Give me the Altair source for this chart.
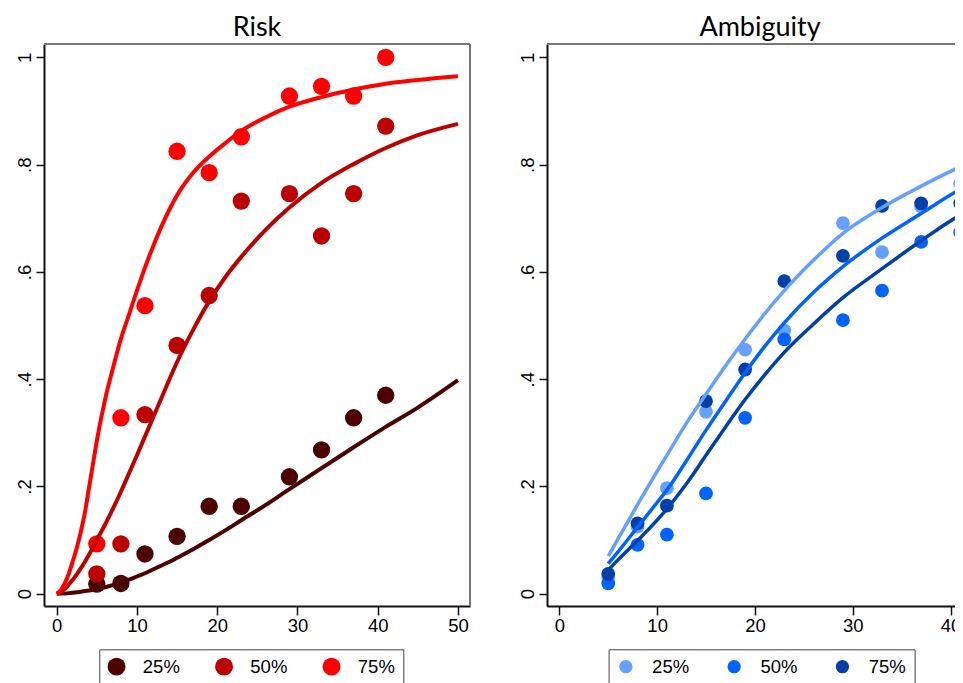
import altair as alt
import pandas as pd

levels = ["25%", "50%", "75%"]
red_colors = ["#4d0000", "#bb0000", "#ff0000"]
blue_colors = ["#66a0ff", "#0062ff", "#0040a8"]

# observed points (same x for all series)
pt_x = [5, 8, 11, 15, 19, 23, 29, 33, 37, 41]
risk_25 = [0.018, 0.019, 0.074, 0.107, 0.163, 0.163, 0.218, 0.268, 0.328, 0.370]
risk_50 = [0.037, 0.093, 0.334, 0.463, 0.556, 0.732, 0.746, 0.667, 0.746, 0.872]
risk_75 = [0.093, 0.328, 0.537, 0.825, 0.785, 0.852, 0.928, 0.946, 0.928, 1.000]

amb_25 = [0.030, 0.125, 0.197, 0.339, 0.455, 0.491, 0.691, 0.637, 0.722, 0.765]
amb_50 = [0.019, 0.091, 0.110, 0.187, 0.328, 0.474, 0.510, 0.565, 0.656, 0.674]
amb_75 = [0.037, 0.131, 0.164, 0.359, 0.418, 0.583, 0.630, 0.723, 0.728, 0.728]

# fitted curves
risk_cx = [0, 0.5, 1, 1.5, 2, 2.5, 3, 3.5, 4, 4.5, 5, 6, 7, 8, 9, 10, 11, 12, 13, 14,
           15, 17, 19, 21, 23, 26, 29, 33, 37, 41, 45, 50]
risk_c25 = [0, 0.0002, 0.0005, 0.001, 0.0018, 0.0027, 0.0037, 0.0048, 0.006, 0.0074,
            0.009, 0.012, 0.016, 0.021, 0.026, 0.032, 0.038, 0.045, 0.052, 0.059,
            0.067, 0.083, 0.100, 0.118, 0.137, 0.165, 0.195, 0.234, 0.273, 0.311, 0.347, 0.398]
risk_c50 = [0, 0.003, 0.009, 0.017, 0.026, 0.036, 0.047, 0.059, 0.072, 0.086,
            0.100, 0.128, 0.158, 0.190, 0.224, 0.258, 0.293, 0.328, 0.363, 0.398,
            0.432, 0.492, 0.545, 0.590, 0.628, 0.678, 0.720, 0.766, 0.801, 0.831, 0.855, 0.876]
risk_c75 = [0, 0.006, 0.019, 0.037, 0.060, 0.085, 0.115, 0.150, 0.195, 0.240,
            0.285, 0.360, 0.420, 0.475, 0.520, 0.565, 0.608, 0.647, 0.683, 0.715,
            0.743, 0.785, 0.815, 0.840, 0.863, 0.888, 0.908, 0.926, 0.940, 0.951, 0.958, 0.965]

amb_cx = [5, 6, 8, 10, 11, 13, 15, 17, 19, 21, 23, 26, 29, 33, 37, 41, 42.5]
amb_c25 = [0.070, 0.102, 0.166, 0.228, 0.258, 0.318, 0.372, 0.425, 0.475, 0.522,
           0.565, 0.622, 0.672, 0.720, 0.760, 0.796, 0.808]
amb_c50 = [0.056, 0.078, 0.124, 0.170, 0.193, 0.248, 0.305, 0.359, 0.412, 0.461,
           0.505, 0.562, 0.610, 0.663, 0.709, 0.754, 0.768]
amb_c75 = [0.044, 0.063, 0.099, 0.137, 0.158, 0.205, 0.258, 0.311, 0.362, 0.408,
           0.450, 0.503, 0.552, 0.606, 0.658, 0.706, 0.720]

y_ticks = [0, 0.2, 0.4, 0.6, 0.8, 1]

W, H = 426, 562
LABEL_FONT = "Liberation Sans"
TITLE_FONT = "Lato"


def pts_frame(series):
    rows = []
    for i, (lvl, vals) in enumerate(zip(levels, series)):
        for x, y in zip(pt_x, vals):
            rows.append({"x": x, "y": y, "level": lvl, "k": i})
    return pd.DataFrame(rows)


def curve_frame(cx, series):
    rows = []
    for i, (lvl, vals) in enumerate(zip(levels, series)):
        for x, y in zip(cx, vals):
            rows.append({"x": x, "y": y, "level": lvl, "k": i})
    return pd.DataFrame(rows)


def panel(title, pts, curves, xdomain, xticks, colors, psize, lwidth, sym, legx, colpad, right_border):
    xs = alt.Scale(domain=xdomain, nice=False, zero=False)
    ys = alt.Scale(domain=[-0.023, 1.025], nice=False, zero=False)
    x_axis = alt.Axis(values=xticks, title=None, grid=False, labelFont=LABEL_FONT,
                      labelFontSize=18.5, labelColor="black", tickSize=9, tickWidth=1.5,
                      tickColor="#111", domainColor="#111", domainWidth=2, labelPadding=1,
                      labelFlush=False, labelOverlap=False)
    y_axis = alt.Axis(values=y_ticks, title=None, grid=False, labelFont=LABEL_FONT,
                      labelFontSize=18.5, labelColor="black", tickSize=8, tickWidth=1.5,
                      tickColor="#111", domainColor="#111", domainWidth=2, labelPadding=2,
                      labelAngle=270, labelAlign="center", labelBaseline="bottom",
                      labelFlush=False, labelOverlap=False,
                      labelExpr="datum.value == 0 ? '0' : datum.value == 1 ? '1' : '.' + round(datum.value * 10)")
    legend = alt.Legend(orient="none", legendX=legx, legendY=605.3, direction="horizontal",
                        columns=3, title=None, symbolType="circle", symbolSize=sym,
                        symbolStrokeWidth=0, labelFont=LABEL_FONT, labelFontSize=18.5,
                        labelColor="black", labelOffset=17, columnPadding=colpad, padding=8,
                        labelExpr="datum.label + ' '",
                        strokeColor="#444", fillColor="white")
    p = alt.Chart(pts).mark_circle(size=psize, opacity=1, clip=True).encode(
        x=alt.X("x:Q", scale=xs, axis=x_axis),
        y=alt.Y("y:Q", scale=ys, axis=y_axis),
        fill=alt.Fill("level:N", scale=alt.Scale(domain=levels, range=colors), legend=legend),
        order=alt.Order("k:Q"),
    )
    l = alt.Chart(curves).mark_line(strokeWidth=lwidth, interpolate="monotone", clip=True).encode(
        x=alt.X("x:Q", scale=xs),
        y=alt.Y("y:Q", scale=ys),
        stroke=alt.Stroke("level:N", scale=alt.Scale(domain=levels, range=colors), legend=None),
        order=alt.Order("x:Q"),
    )
    one = pd.DataFrame({"a": [0]})
    top = alt.Chart(one).mark_rule(color="#777", strokeWidth=2).encode(
        x=alt.value(0), x2=alt.value(W), y=alt.value(0))
    layers = [p, l, top]
    if right_border:
        rb = alt.Chart(one).mark_rule(color="#777", strokeWidth=2).encode(
            x=alt.value(W), y=alt.value(0), y2=alt.value(H))
        layers.append(rb)
    return alt.layer(*layers).properties(
        width=W, height=H,
        title=alt.TitleParams(title, font=TITLE_FONT, fontSize=27, fontWeight="normal",
                              color="black", anchor="middle", frame="group",
                              baseline="alphabetic", offset=-19.5),
    )


left = panel("Risk", pts_frame([risk_25, risk_50, risk_75]),
             curve_frame(risk_cx, [risk_c25, risk_c50, risk_c75]),
             [-1.58, 51.5], [0, 10, 20, 30, 40, 50], red_colors, 300, 4, 320, 55.3, 34.5, True)
right = panel("Ambiguity", pts_frame([amb_25, amb_50, amb_75]),
              curve_frame(amb_cx, [amb_c25, amb_c50, amb_c75]),
              [-1.26, 42.3], [0, 10, 20, 30, 40], blue_colors, 190, 3.5, 177, 61.6, 35.3, False)

chart = alt.hconcat(left, right, spacing=77, bounds="flush").resolve_scale(
    fill="independent", stroke="independent", x="independent"
).resolve_legend(fill="independent").properties(
    autosize=alt.AutoSizeParams(type="none"),
    padding={"left": 36, "top": 36, "right": 911, "bottom": 631},
    background="white",
).configure_view(stroke=None)

chart.save("out.html", embed_options={"renderer": "svg", "actions": False})
